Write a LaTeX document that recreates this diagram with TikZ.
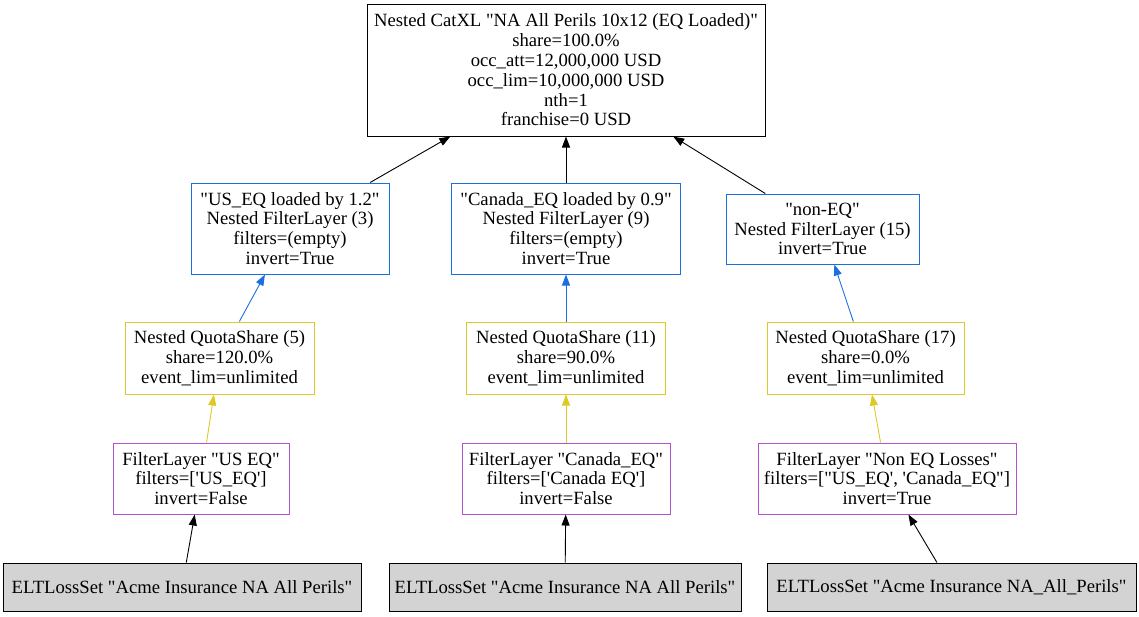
\documentclass[tikz,border=0pt]{standalone}
\usepackage{fontspec}
\setmainfont{Liberation Serif}
\usepackage{tikz}
\usetikzlibrary{arrows.meta}

\definecolor{filtblue}{HTML}{1C6FE0}
\definecolor{qsyellow}{HTML}{DDCA26}
\definecolor{flpurple}{HTML}{B452CD}
\definecolor{eltgray}{HTML}{D3D3D3}

\newcommand{\qd}{\textquotedbl}
\newcommand{\qs}{\textquotesingle}

\begin{document}
\begin{tikzpicture}[->,>={Triangle[length=11pt,width=8pt]},x=1pt,y=-1pt,
                    line width=0.9pt]
\tikzstyle{box}=[rectangle,draw=black,align=center,inner sep=2pt,line width=1pt]
\tikzset{font=\fontsize{18.67pt}{19.8pt}\selectfont}

        \useasboundingbox (0,0) rectangle (1139,616);

        % top layer
        \node[box,minimum width=398pt,minimum height=132pt]          (cat)  at (566,70) {Nested CatXL \qd NA All Perils 10x12 (EQ Loaded)\qd\\share=100.0\%\\occ\_att=12,000,000 USD\\occ\_lim=10,000,000 USD\\nth=1\\franchise=0 USD};

        % nested filter layers
        \node[box,draw=filtblue,minimum width=198pt,minimum height=91pt,node distance=158.5pt,xshift=-276pt]   (usf)  [below of=cat]  {\qd US\_EQ loaded by 1.2\qd\\Nested FilterLayer (3)\\filters=(empty)\\invert=True};
        \node[box,draw=filtblue,minimum width=229pt,minimum height=91pt,node distance=158.5pt]                 (caf)  [below of=cat]  {\qd Canada\_EQ loaded by 0.9\qd\\Nested FilterLayer (9)\\filters=(empty)\\invert=True};
        \node[box,draw=filtblue,minimum width=193pt,minimum height=70pt,node distance=159pt,xshift=256.5pt]    (nof)  [below of=cat]  {\qd non-EQ\qd\\Nested FilterLayer (15)\\invert=True};

        % quota shares
        \node[box,draw=qsyellow,minimum width=189pt,minimum height=72pt,node distance=129.5pt,xshift=-70.5pt] (qs5)  [below of=usf]  {Nested QuotaShare (5)\\share=120.0\%\\event\_lim=unlimited};
        \node[box,draw=qsyellow,minimum width=199pt,minimum height=72pt,node distance=129.5pt]                (qs11) [below of=caf]  {Nested QuotaShare (11)\\share=90.0\%\\event\_lim=unlimited};
        \node[box,draw=qsyellow,minimum width=197pt,minimum height=72pt,node distance=129pt,xshift=43pt]      (qs17) [below of=nof]  {Nested QuotaShare (17)\\share=0.0\%\\event\_lim=unlimited};

        % filter layers
        \node[box,draw=flpurple,minimum width=176pt,minimum height=71pt,node distance=120.5pt,xshift=-18.5pt] (flus) [below of=qs5]  {FilterLayer \qd US EQ\qd\\filters=[\qs US\_EQ\qs]\\invert=False};
        \node[box,draw=flpurple,minimum width=208pt,minimum height=71pt,node distance=120.5pt]                (flca) [below of=qs11] {FilterLayer \qd Canada\_EQ\qd\\filters=[\qs Canada EQ\qs]\\invert=False};
        \node[box,draw=flpurple,minimum width=258pt,minimum height=71pt,node distance=120.5pt,xshift=21.5pt]  (flno) [below of=qs17] {FilterLayer \qd Non EQ Losses\qd\\filters=[\qd US\_EQ\qs, \qs Canada\_EQ\qd]\\invert=True};

        % loss sets
        \node[box,fill=eltgray,minimum width=358pt,minimum height=48pt,node distance=108.5pt,xshift=-19pt]    (elt1) [below of=flus] {ELTLossSet \qd Acme Insurance NA All Perils\qd};
        \node[box,fill=eltgray,minimum width=352pt,minimum height=48pt,node distance=108.5pt,xshift=-1pt]     (elt2) [below of=flca] {ELTLossSet \qd Acme Insurance NA All Perils\qd};
        \node[box,fill=eltgray,minimum width=369pt,minimum height=48pt,node distance=108.5pt,xshift=64.5pt]   (elt3) [below of=flno] {ELTLossSet \qd Acme Insurance NA\_All\_Perils\qd};

        \path[->]
        (usf)  edge node {}             (cat)
        (caf)  edge node {}             (cat)
        (nof)  edge node {}             (cat)
        (qs5)  edge[filtblue] node {}   (usf)
        (qs11) edge[filtblue] node {}   (caf)
        (qs17) edge[filtblue] node {}   (nof)
        (flus) edge[qsyellow] node {}   (qs5)
        (flca) edge[qsyellow] node {}   (qs11)
        (flno) edge[qsyellow] node {}   (qs17)
        (elt1) edge node {}             (flus)
        (elt2) edge node {}             (flca)
        (elt3) edge node {}             (flno)
        ; %end path

\end{tikzpicture}
\end{document}
